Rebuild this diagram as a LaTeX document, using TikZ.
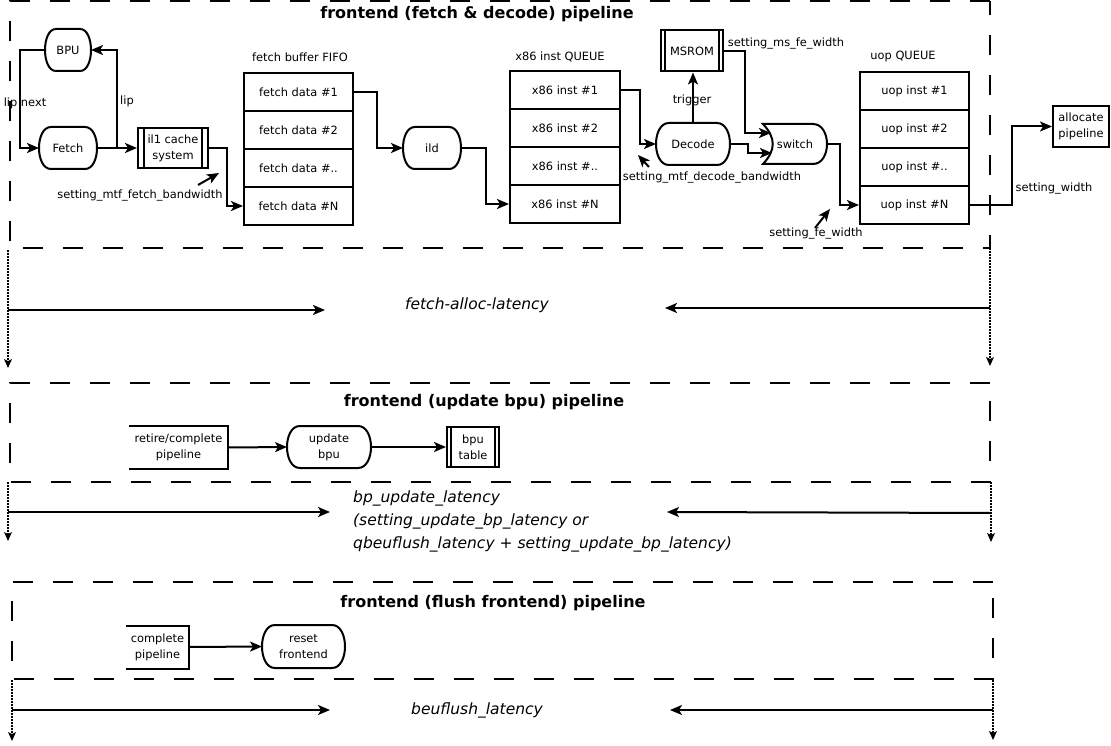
\documentclass[tikz,border=0pt]{standalone}
\usepackage{fontspec}
\setmainfont{DejaVu Sans}
\usetikzlibrary{arrows.meta}
\newcommand{\lab}{\fontsize{11.4}{16}\selectfont}
\newcommand{\ttl}{\fontsize{16}{19}\selectfont\bfseries}
\newcommand{\ital}{\fontsize{15.5}{23}\selectfont\itshape}
\newcommand{\termdraw}[2]{\draw[line width=2pt] ([xshift=#2]#1.north west) -- ([xshift=-#2]#1.north east)
  .. controls ([xshift=#2/3]#1.north east) and ([xshift=#2/3]#1.south east) .. ([xshift=-#2]#1.south east)
  -- ([xshift=#2]#1.south west)
  .. controls ([xshift=-#2/3]#1.south west) and ([xshift=-#2/3]#1.north west) .. ([xshift=#2]#1.north west) -- cycle;}
\newcommand{\procdraw}[2]{\draw[line width=2pt] ([xshift=#2]#1.north west) -- ([xshift=#2]#1.south west)
      ([xshift=-#2]#1.north east) -- ([xshift=-#2]#1.south east);}
\tikzset{
  base/.style={line width=2pt, font=\lab, align=center, inner sep=0pt},
  term/.style={base},
  boxx/.style={base, draw, rectangle},
  open/.style={base},
  proc/.style={base, draw, rectangle},
  arr/.style={line width=2pt, -{Stealth[length=12pt,width=10pt,inset=3pt]}},
  darr/.style={line width=2pt, dash pattern=on 1.5pt off 1.5pt, -{Stealth[length=9pt,width=8pt,inset=2pt,line width=0pt]}},
  sect/.style={line width=2pt, dash pattern=on 20pt off 20pt},
  txt/.style={font=\lab, inner sep=0pt},
  ttxt/.style={font=\ttl, inner sep=0pt},
  itxt/.style={font=\ital, inner sep=0pt, align=left}
}
\begin{document}
\begin{tikzpicture}[x=1pt,y=-1pt]
\useasboundingbox (0,0) rectangle (1111,746);
% sections
\draw[sect] (990,1) -- (10,1) -- (10,248) -- (990,248) -- cycle;
\draw[sect] (990,383) -- (10,383) -- (10,482) -- (990,482) -- cycle;
\draw[sect] (993,582) -- (12,582) -- (12,679) -- (993,679) -- cycle;
\node[ttxt] (t1) at (477,14) {frontend (fetch \& decode) pipeline};
\node[ttxt] (t2) at (484,402) {frontend (update bpu) pipeline};
\node[ttxt] (t3) at (493,603) {frontend (flush frontend) pipeline};

% section 1 nodes
\node[term, minimum width=44pt, minimum height=40pt] (bpu) at (68,50) {BPU};
\termdraw{bpu}{11pt}
\node[term, minimum width=56pt, minimum height=40pt] (fetch) at (68,148) {Fetch};
\termdraw{fetch}{12pt}
\node[proc, minimum width=70pt, minimum height=40pt] (il1) at (173,148) {il1 cache\\system};
\procdraw{il1}{7pt}

\node[txt] (fbt) at (300,57) {fetch buffer FIFO};
\node[boxx, minimum width=109pt, minimum height=38pt] (fd1) at (298.5,92) {fetch data \#1};
\node[boxx, minimum width=109pt, minimum height=38pt] (fd2) at (298.5,130) {fetch data \#2};
\node[boxx, minimum width=109pt, minimum height=38pt] (fd3) at (298.5,168) {fetch data \#..};
\node[boxx, minimum width=109pt, minimum height=38pt] (fdN) at (298.5,206) {fetch data \#N};

\node[term, minimum width=56pt, minimum height=40pt] (ild) at (432,148) {ild};
\termdraw{ild}{12pt}

\node[txt] (xqt) at (560,57) {x86 inst QUEUE};
\node[boxx, minimum width=110pt, minimum height=38pt] (x1) at (565,90) {x86 inst \#1};
\node[boxx, minimum width=110pt, minimum height=38pt] (x2) at (565,128) {x86 inst \#2};
\node[boxx, minimum width=110pt, minimum height=38pt] (x3) at (565,166) {x86 inst \#..};
\node[boxx, minimum width=110pt, minimum height=38pt] (xN) at (565,204) {x86 inst \#N};

\node[term, minimum width=72pt, minimum height=40pt] (decode) at (693,144) {Decode};
\termdraw{decode}{13pt}
\node[proc, minimum width=62pt, minimum height=41pt] (msrom) at (692,51) {MSROM};
\procdraw{msrom}{5pt}

\node[base, minimum width=64pt, minimum height=40pt] (switch) at (795,144) {switch};
\draw[line width=2pt] (763,124) -- (813,124) to[out=0,in=90] (827,144) to[out=-90,in=0] (813,164)
      -- (763,164) .. controls (776,150) and (776,138) .. (763,124) -- cycle;
\coordinate (swin1) at (771,133);
\coordinate (swin2) at (772,153);

\node[txt] (uqt) at (903,56) {uop QUEUE};
\node[boxx, minimum width=109pt, minimum height=38pt] (u1) at (914.5,91) {uop inst \#1};
\node[boxx, minimum width=109pt, minimum height=38pt] (u2) at (914.5,129) {uop inst \#2};
\node[boxx, minimum width=109pt, minimum height=38pt] (u3) at (914.5,167) {uop inst \#..};
\node[boxx, minimum width=109pt, minimum height=38pt] (uN) at (914.5,205) {uop inst \#N};

\node[boxx, minimum width=56pt, minimum height=41pt] (alloc) at (1081,126.5) {allocate\\pipeline};

% section 1 connectors
\draw[arr] (bpu.west) -- (20,50) -- (20,148) -- (fetch.west);
\draw[arr] (fetch.east) -- (il1.west);
\draw[arr] (fetch.east) -- (117,148) -- (117,50) -- (bpu.east);
\draw[arr] (il1.east) -- (227,148) -- (227,206) -- (fdN.west);
\draw[arr] (fd1.east) -- (377,92) |- (ild.west);
\draw[arr] (ild.east) -- (486,148) |- (xN.west);
\draw[arr] (x1.east) -- (640,90) |- (decode.west);
\draw[arr] (decode.north) -- (decode.north |- msrom.south);
\draw[arr] (msrom.east) -- (745,51) |- (swin1);
\draw[arr] (decode.east) -- (748,144) |- (swin2);
\draw[arr] (switch.east) -- (840,144) |- (uN.west);
\draw[arr] (uN.east) -- (1012,205) |- (alloc.west);

\coordinate (a1s) at (198,185); \coordinate (a1e) at (219,173);
\draw[arr] (a1s) -- (a1e);
\coordinate (a2s) at (649,167); \coordinate (a2e) at (638,155);
\draw[arr] (a2s) -- (a2e);
\coordinate (a3s) at (815,228); \coordinate (a3e) at (830,209);
\draw[arr] (a3s) -- (a3e);

\node[txt] (l1) at (25,103) {lip next};
\node[txt] (l2) at (127,101) {lip};
\node[txt] (l3) at (140,196) {setting\_mtf\_fetch\_bandwidth};
\node[txt] (l4) at (692,100) {trigger};
\node[txt] (l5) at (786,44) {setting\_ms\_fe\_width};
\node[txt] (l6) at (712,178) {setting\_mtf\_decode\_bandwidth};
\node[txt] (l7) at (816,234) {setting\_fe\_width};
\node[txt] (l8) at (1054,189) {setting\_width};

% latency 1
\coordinate (d1a) at (8,250); \coordinate (d1b) at (8,368);
\coordinate (d1c) at (990,248); \coordinate (d1d) at (990,366);
\draw[darr] (d1a) -- (d1b);
\draw[darr] (d1c) -- (d1d);
\coordinate (h1a) at (8,310); \coordinate (h1b) at (325,310);
\coordinate (h1c) at (990,308); \coordinate (h1d) at (665,308);
\draw[arr] (h1a) -- (h1b);
\draw[arr] (h1c) -- (h1d);
\node[itxt] (lat1) at (477,305) {fetch-alloc-latency};

% section 2
\node[open, minimum width=97pt, minimum height=41pt] (retire) at (178.5,447.5) {retire/complete\\pipeline};
\draw[line width=2pt] (retire.north west) -- (retire.north east) -- (retire.south east) -- (retire.south west);
\node[term, minimum width=82pt, minimum height=40pt] (upd) at (329,447) {update\\bpu};
\termdraw{upd}{13pt}
\node[proc, minimum width=52pt, minimum height=40pt] (bput) at (473,447) {bpu\\table};
\procdraw{bput}{5pt}
\draw[arr] (retire.east) -- (upd.west);
\draw[arr] (upd.east) -- (bput.west);

\coordinate (d2a) at (8,482); \coordinate (d2b) at (8,541);
\coordinate (d2c) at (991,482); \coordinate (d2d) at (991,542);
\draw[darr] (d2a) -- (d2b);
\draw[darr] (d2c) -- (d2d);
\coordinate (h2a) at (8,512); \coordinate (h2b) at (330,512);
\coordinate (h2c) at (991,513); \coordinate (h2d) at (667,512);
\draw[arr] (h2a) -- (h2b);
\draw[arr] (h2c) -- (h2d);
\node[itxt, anchor=north west] (lat2) at (353,491) {bp\_update\_latency\\(setting\_update\_bp\_latency or\\qbeuflush\_latency + setting\_update\_bp\_latency)};

% section 3
\node[open, minimum width=61pt, minimum height=41pt] (compl) at (157.5,647) {complete\\pipeline};
\draw[line width=2pt] (compl.north west) -- (compl.north east) -- (compl.south east) -- (compl.south west);
\node[term, minimum width=81pt, minimum height=41pt] (reset) at (303.5,646.5) {reset\\frontend};
\termdraw{reset}{13pt}
\draw[arr] (compl.east) -- (reset.west);

\coordinate (d3a) at (12,680); \coordinate (d3b) at (12,741);
\coordinate (d3c) at (993,680); \coordinate (d3d) at (993,740);
\draw[darr] (d3a) -- (d3b);
\draw[darr] (d3c) -- (d3d);
\coordinate (h3a) at (12,710); \coordinate (h3b) at (330,710);
\coordinate (h3c) at (993,710); \coordinate (h3d) at (670,710);
\draw[arr] (h3a) -- (h3b);
\draw[arr] (h3c) -- (h3d);
\node[itxt] (lat3) at (477,710) {beuflush\_latency};
\end{tikzpicture}
\end{document}
